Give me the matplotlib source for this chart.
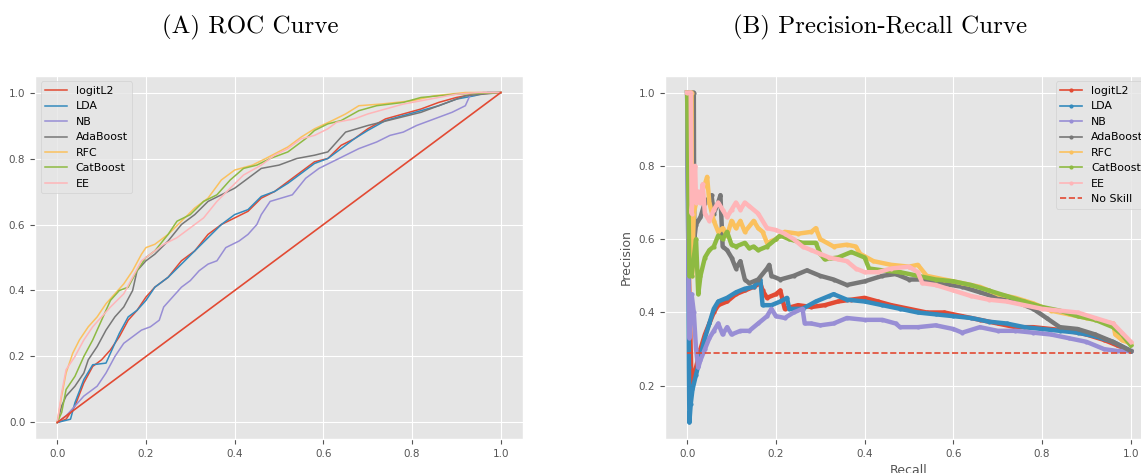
import numpy as np
import matplotlib
matplotlib.use('Agg')
import matplotlib.pyplot as plt

plt.style.use('ggplot')
plt.rcParams['font.size'] = 7.5

models = ['logitL2', 'LDA', 'NB', 'AdaBoost', 'RFC', 'CatBoost', 'EE']

# ROC curves, (false positive rate, true positive rate)
roc_logitL2 = [(0, 0), (0.02, 0.01), (0.04, 0.05), (0.06, 0.12), (0.08, 0.17), (0.10, 0.19),
               (0.12, 0.22), (0.14, 0.26), (0.16, 0.31), (0.18, 0.34), (0.20, 0.38), (0.22, 0.41),
               (0.25, 0.44), (0.28, 0.49), (0.31, 0.52), (0.34, 0.57), (0.37, 0.60), (0.40, 0.62),
               (0.43, 0.64), (0.46, 0.68), (0.49, 0.70), (0.52, 0.73), (0.55, 0.76), (0.58, 0.79),
               (0.61, 0.80), (0.64, 0.84), (0.67, 0.86), (0.70, 0.89), (0.74, 0.92), (0.78, 0.935),
               (0.82, 0.95), (0.86, 0.97), (0.90, 0.985), (0.94, 0.995), (1, 1)]
roc_LDA = [(0, 0), (0.03, 0.01), (0.04, 0.06), (0.06, 0.13), (0.08, 0.175), (0.11, 0.18),
           (0.12, 0.21), (0.14, 0.27), (0.16, 0.32), (0.18, 0.34), (0.20, 0.37), (0.22, 0.41),
           (0.25, 0.44), (0.28, 0.48), (0.31, 0.52), (0.34, 0.56), (0.37, 0.60), (0.40, 0.63),
           (0.43, 0.645), (0.46, 0.685), (0.49, 0.70), (0.52, 0.725), (0.55, 0.755), (0.58, 0.785),
           (0.61, 0.80), (0.64, 0.83), (0.67, 0.86), (0.70, 0.885), (0.74, 0.915), (0.78, 0.93),
           (0.82, 0.945), (0.86, 0.96), (0.90, 0.98), (0.94, 0.99), (0.97, 1.0), (1, 1)]
roc_NB = [(0, 0), (0.02, 0.02), (0.04, 0.05), (0.06, 0.08), (0.09, 0.11), (0.11, 0.15),
          (0.13, 0.20), (0.15, 0.24), (0.17, 0.26), (0.19, 0.28), (0.21, 0.29), (0.23, 0.31),
          (0.24, 0.35), (0.26, 0.38), (0.28, 0.41), (0.30, 0.43), (0.32, 0.46), (0.34, 0.48),
          (0.36, 0.49), (0.38, 0.53), (0.41, 0.55), (0.43, 0.57), (0.45, 0.60), (0.46, 0.63),
          (0.48, 0.67), (0.53, 0.69), (0.56, 0.74), (0.59, 0.77), (0.62, 0.79), (0.65, 0.81),
          (0.68, 0.83), (0.72, 0.85), (0.75, 0.87), (0.78, 0.88), (0.81, 0.90), (0.85, 0.92),
          (0.89, 0.94), (0.92, 0.96), (0.93, 0.99), (0.96, 1.0), (1, 1)]
roc_AdaBoost = [(0, 0), (0.01, 0.05), (0.02, 0.08), (0.04, 0.11), (0.06, 0.15), (0.07, 0.19),
                (0.09, 0.23), (0.11, 0.28), (0.13, 0.32), (0.15, 0.35), (0.17, 0.40), (0.18, 0.46),
                (0.20, 0.49), (0.22, 0.51), (0.25, 0.55), (0.28, 0.60), (0.31, 0.63), (0.34, 0.67),
                (0.37, 0.69), (0.40, 0.71), (0.43, 0.74), (0.46, 0.77), (0.50, 0.78), (0.54, 0.80),
                (0.58, 0.81), (0.61, 0.82), (0.63, 0.85), (0.65, 0.88), (0.70, 0.90), (0.76, 0.92),
                (0.82, 0.94), (0.88, 0.97), (0.92, 0.99), (0.96, 0.995), (1, 1)]
roc_RFC = [(0, 0), (0.01, 0.08), (0.02, 0.15), (0.035, 0.21), (0.05, 0.25), (0.07, 0.29),
           (0.09, 0.32), (0.11, 0.36), (0.13, 0.39), (0.15, 0.42), (0.17, 0.46), (0.19, 0.51),
           (0.20, 0.53), (0.22, 0.54), (0.25, 0.57), (0.28, 0.61), (0.31, 0.65), (0.34, 0.68),
           (0.37, 0.735), (0.40, 0.765), (0.44, 0.78), (0.47, 0.80), (0.52, 0.835), (0.55, 0.865),
           (0.58, 0.89), (0.62, 0.915), (0.65, 0.935), (0.68, 0.96), (0.73, 0.965), (0.80, 0.975),
           (0.85, 0.99), (0.92, 1.0), (1, 1)]
roc_CatBoost = [(0, 0), (0.01, 0.03), (0.02, 0.10), (0.04, 0.14), (0.06, 0.20), (0.08, 0.25),
                (0.10, 0.31), (0.12, 0.37), (0.14, 0.40), (0.16, 0.41), (0.18, 0.46), (0.20, 0.50),
                (0.22, 0.52), (0.25, 0.57), (0.27, 0.61), (0.30, 0.63), (0.33, 0.67), (0.36, 0.69),
                (0.39, 0.735), (0.42, 0.77), (0.45, 0.78), (0.48, 0.80), (0.52, 0.82), (0.56, 0.86),
                (0.58, 0.885), (0.61, 0.905), (0.64, 0.915), (0.68, 0.945), (0.72, 0.96), (0.78, 0.97),
                (0.82, 0.985), (0.90, 0.995), (1, 1)]
roc_EE = [(0, 0), (0.01, 0.09), (0.02, 0.16), (0.04, 0.20), (0.06, 0.25), (0.08, 0.29),
          (0.10, 0.32), (0.12, 0.35), (0.15, 0.39), (0.17, 0.44), (0.19, 0.49), (0.21, 0.51),
          (0.24, 0.54), (0.27, 0.56), (0.30, 0.59), (0.33, 0.62), (0.36, 0.67), (0.39, 0.71),
          (0.42, 0.75), (0.46, 0.78), (0.49, 0.81), (0.52, 0.83), (0.55, 0.86), (0.58, 0.87),
          (0.61, 0.89), (0.63, 0.91), (0.67, 0.92), (0.70, 0.935), (0.74, 0.95), (0.78, 0.965),
          (0.84, 0.98), (0.90, 0.995), (0.95, 1.0), (1, 1)]

# precision-recall curves, (recall, precision)
pr_logitL2 = [(0, 1.0), (0.004, 0.5), (0.01, 0.2), (0.02, 0.25), (0.03, 0.30), (0.04, 0.34),
              (0.05, 0.37), (0.06, 0.40), (0.07, 0.42), (0.09, 0.43), (0.11, 0.45), (0.13, 0.46),
              (0.15, 0.47), (0.165, 0.48), (0.17, 0.46), (0.18, 0.44), (0.20, 0.45), (0.21, 0.46),
              (0.22, 0.41), (0.25, 0.42), (0.28, 0.415), (0.31, 0.42), (0.34, 0.43), (0.37, 0.435),
              (0.40, 0.44), (0.43, 0.43), (0.46, 0.42), (0.50, 0.41), (0.54, 0.40), (0.58, 0.40),
              (0.62, 0.39), (0.66, 0.38), (0.70, 0.37), (0.74, 0.36), (0.78, 0.36), (0.82, 0.355),
              (0.86, 0.35), (0.90, 0.34), (0.94, 0.325), (0.97, 0.31), (1.0, 0.295)]
pr_LDA = [(0, 1.0), (0.003, 0.5), (0.004, 0.25), (0.005, 0.10), (0.008, 0.15), (0.012, 0.19),
          (0.02, 0.23), (0.03, 0.28), (0.04, 0.33), (0.05, 0.37), (0.06, 0.41), (0.07, 0.43),
          (0.09, 0.44), (0.11, 0.455), (0.13, 0.465), (0.15, 0.47), (0.165, 0.49), (0.17, 0.42),
          (0.19, 0.42), (0.21, 0.43), (0.225, 0.44), (0.23, 0.41), (0.26, 0.41), (0.29, 0.43),
          (0.32, 0.445), (0.33, 0.45), (0.36, 0.435), (0.40, 0.43), (0.44, 0.42), (0.48, 0.41),
          (0.52, 0.40), (0.56, 0.395), (0.60, 0.39), (0.64, 0.385), (0.68, 0.375), (0.72, 0.37),
          (0.76, 0.36), (0.80, 0.355), (0.84, 0.35), (0.88, 0.345), (0.92, 0.335), (0.96, 0.32),
          (1.0, 0.295)]
pr_NB = [(0, 1.0), (0.003, 0.5), (0.005, 0.33), (0.01, 0.45), (0.015, 0.40), (0.02, 0.30),
         (0.025, 0.25), (0.03, 0.27), (0.04, 0.30), (0.05, 0.33), (0.06, 0.35), (0.07, 0.37),
         (0.08, 0.34), (0.09, 0.36), (0.10, 0.34), (0.12, 0.35), (0.14, 0.35), (0.16, 0.37),
         (0.18, 0.39), (0.19, 0.41), (0.20, 0.39), (0.22, 0.385), (0.24, 0.40), (0.26, 0.41),
         (0.265, 0.37), (0.28, 0.37), (0.30, 0.365), (0.33, 0.37), (0.36, 0.385), (0.40, 0.38),
         (0.44, 0.38), (0.47, 0.37), (0.48, 0.36), (0.52, 0.36), (0.56, 0.365), (0.60, 0.355),
         (0.62, 0.345), (0.66, 0.36), (0.70, 0.35), (0.74, 0.35), (0.78, 0.345), (0.82, 0.34),
         (0.86, 0.33), (0.90, 0.32), (0.94, 0.30), (0.97, 0.295), (1.0, 0.295)]
pr_AdaBoost = [(0, 1.0), (0.015, 1.0), (0.016, 0.60), (0.02, 0.64), (0.03, 0.66), (0.04, 0.70),
               (0.055, 0.72), (0.06, 0.67), (0.07, 0.70), (0.075, 0.72), (0.08, 0.58), (0.09, 0.57),
               (0.10, 0.55), (0.11, 0.52), (0.12, 0.54), (0.13, 0.49), (0.14, 0.48), (0.16, 0.49),
               (0.18, 0.52), (0.185, 0.53), (0.19, 0.50), (0.21, 0.49), (0.24, 0.50), (0.27, 0.515),
               (0.30, 0.50), (0.33, 0.49), (0.36, 0.475), (0.40, 0.485), (0.44, 0.50), (0.47, 0.505),
               (0.50, 0.49), (0.53, 0.49), (0.57, 0.48), (0.62, 0.47), (0.66, 0.455), (0.70, 0.44),
               (0.74, 0.43), (0.78, 0.41), (0.81, 0.385), (0.84, 0.36), (0.88, 0.355), (0.92, 0.34),
               (0.96, 0.32), (1.0, 0.295)]
pr_RFC = [(0, 1.0), (0.01, 1.0), (0.011, 0.50), (0.015, 0.67), (0.02, 0.70), (0.03, 0.72),
          (0.04, 0.75), (0.045, 0.77), (0.05, 0.70), (0.06, 0.65), (0.07, 0.62), (0.08, 0.63),
          (0.09, 0.61), (0.10, 0.65), (0.11, 0.63), (0.12, 0.65), (0.13, 0.62), (0.15, 0.65),
          (0.16, 0.63), (0.17, 0.62), (0.18, 0.59), (0.20, 0.60), (0.22, 0.62), (0.25, 0.615),
          (0.28, 0.62), (0.29, 0.63), (0.30, 0.60), (0.33, 0.58), (0.36, 0.585), (0.38, 0.58),
          (0.39, 0.56), (0.42, 0.54), (0.46, 0.53), (0.50, 0.525), (0.52, 0.53), (0.54, 0.50),
          (0.58, 0.49), (0.62, 0.48), (0.66, 0.47), (0.70, 0.45), (0.74, 0.44), (0.78, 0.425),
          (0.82, 0.405), (0.86, 0.395), (0.90, 0.385), (0.94, 0.375), (0.96, 0.37), (0.965, 0.34),
          (0.98, 0.325), (1.0, 0.315)]
pr_CatBoost = [(0, 1.0), (0.005, 0.50), (0.01, 0.50), (0.015, 0.55), (0.02, 0.60), (0.025, 0.45),
               (0.03, 0.50), (0.04, 0.55), (0.05, 0.57), (0.06, 0.58), (0.07, 0.61), (0.08, 0.60),
               (0.09, 0.62), (0.10, 0.585), (0.11, 0.58), (0.13, 0.59), (0.14, 0.575), (0.15, 0.58),
               (0.16, 0.57), (0.18, 0.58), (0.20, 0.60), (0.21, 0.61), (0.23, 0.60), (0.26, 0.59),
               (0.29, 0.59), (0.30, 0.56), (0.31, 0.545), (0.34, 0.55), (0.37, 0.565), (0.40, 0.55),
               (0.41, 0.52), (0.44, 0.515), (0.48, 0.51), (0.52, 0.50), (0.56, 0.49), (0.60, 0.485),
               (0.64, 0.475), (0.68, 0.46), (0.72, 0.445), (0.76, 0.43), (0.80, 0.415), (0.84, 0.405),
               (0.88, 0.39), (0.92, 0.38), (0.96, 0.36), (0.98, 0.34), (1.0, 0.31)]
pr_EE = [(0, 1.0), (0.008, 1.0), (0.01, 0.67), (0.015, 0.75), (0.018, 0.80), (0.02, 0.70),
         (0.025, 0.73), (0.03, 0.70), (0.035, 0.75), (0.04, 0.67), (0.05, 0.65), (0.06, 0.68),
         (0.07, 0.70), (0.08, 0.68), (0.09, 0.66), (0.10, 0.68), (0.11, 0.70), (0.12, 0.68),
         (0.13, 0.70), (0.14, 0.69), (0.16, 0.67), (0.18, 0.63), (0.20, 0.625), (0.22, 0.615),
         (0.24, 0.60), (0.26, 0.58), (0.28, 0.57), (0.30, 0.56), (0.32, 0.55), (0.34, 0.545),
         (0.36, 0.54), (0.38, 0.52), (0.40, 0.51), (0.43, 0.51), (0.46, 0.52), (0.50, 0.525),
         (0.52, 0.51), (0.53, 0.48), (0.56, 0.475), (0.60, 0.46), (0.64, 0.445), (0.68, 0.435),
         (0.72, 0.43), (0.76, 0.42), (0.80, 0.41), (0.84, 0.405), (0.88, 0.40), (0.92, 0.385),
         (0.96, 0.37), (0.98, 0.345), (1.0, 0.32)]

no_skill = 0.29

roc_curves = [roc_logitL2, roc_LDA, roc_NB, roc_AdaBoost, roc_RFC, roc_CatBoost, roc_EE]
pr_curves = [pr_logitL2, pr_LDA, pr_NB, pr_AdaBoost, pr_RFC, pr_CatBoost, pr_EE]
colors = plt.rcParams['axes.prop_cycle'].by_key()['color']

fig = plt.figure(figsize=(11.41, 4.73), dpi=100)
ax1 = fig.add_axes([0.0307, 0.0719, 0.4277, 0.7674])
ax2 = fig.add_axes([0.5828, 0.0719, 0.4277, 0.7674])

# (A) ROC
for name, pts in zip(models, roc_curves):
    pts = np.array(pts)
    ax1.plot(pts[:, 0], pts[:, 1], lw=1.1, label=name)
ax1.plot([0, 1], [0, 1], lw=1.2, color=colors[0])
ax1.legend(loc='upper left', fontsize=7.9)

# (B) Precision-Recall: thick band under a thin marked line
for i, (name, pts) in enumerate(zip(models, pr_curves)):
    pts = np.array(pts)
    c = colors[i % len(colors)]
    ax2.plot(pts[:, 0], pts[:, 1], lw=3.2, color=c)
    ax2.plot(pts[:, 0], pts[:, 1], lw=1.2, marker='.', markersize=4, color=c, label=name)
ax2.plot([0, 1], [no_skill, no_skill], ls='--', lw=1.2, color=colors[0], label='No Skill')
ax2.set_xlabel('Recall')
ax2.set_ylabel('Precision')
ax2.legend(loc='upper right', fontsize=7.9)

for ax in (ax1, ax2):
    ax.tick_params(labelsize=7.5)

fig.text(250 / 1141, 1 - 27 / 473, '(A) ROC Curve', family='cmr10', fontsize=18,
         ha='center', va='center')
fig.text(880 / 1141, 1 - 27 / 473, '(B) Precision-Recall Curve', family='cmr10', fontsize=18,
         ha='center', va='center')

fig.savefig('out.png', dpi=100)
